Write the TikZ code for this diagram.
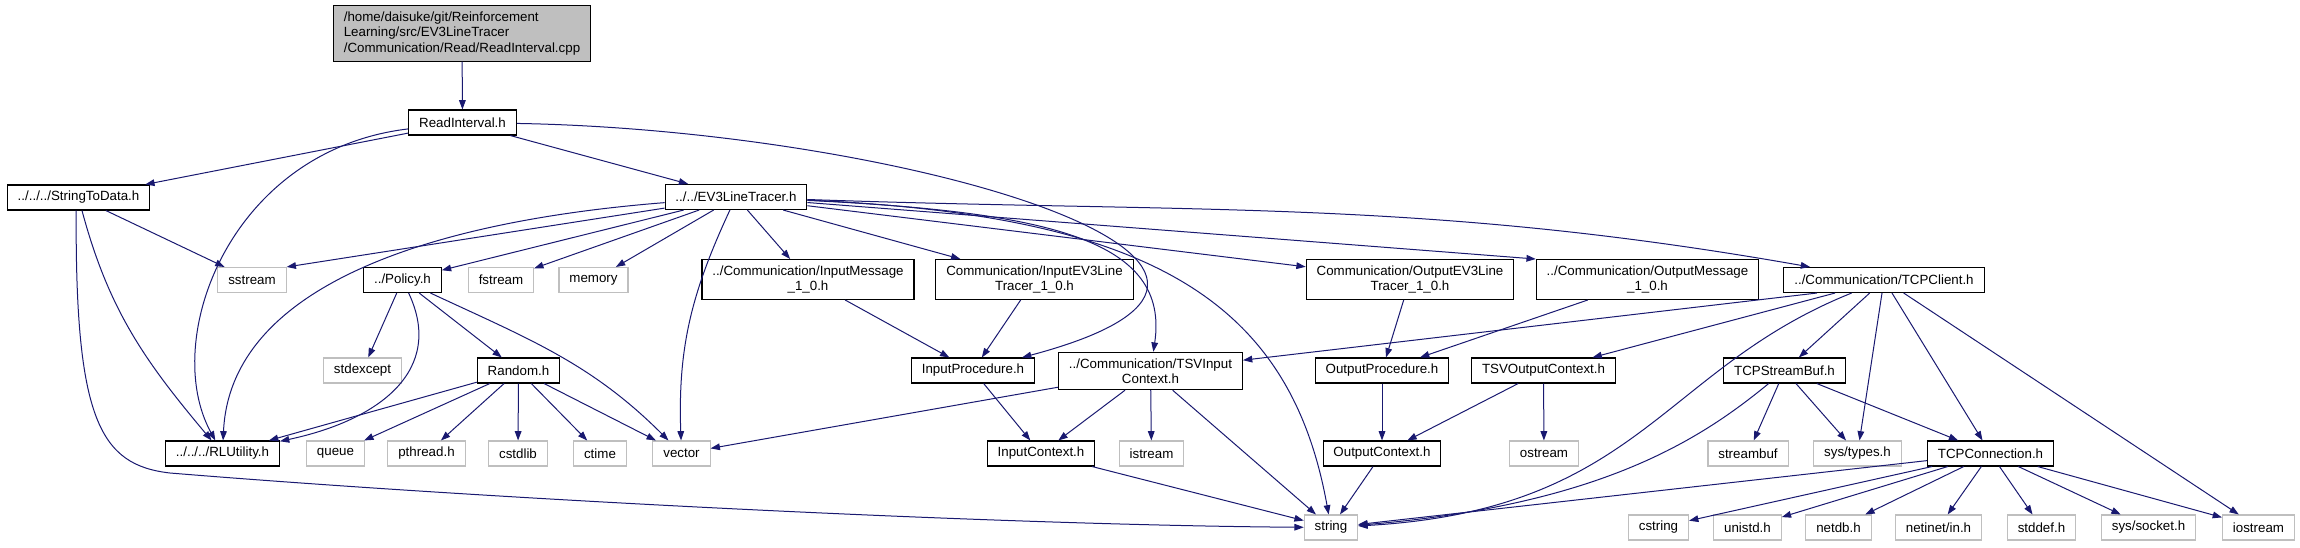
\documentclass[tikz,border=0pt]{standalone}
\usepackage{fontspec}
\setmainfont{Liberation Sans}
\usetikzlibrary{arrows.meta}
\definecolor{edgeblue}{HTML}{191970}
\definecolor{grey75}{HTML}{BFBFBF}

\begin{document}
\begin{tikzpicture}[x=0.75pt,y=-0.75pt,
docnode/.style={draw=black,fill=white,line width=0.8pt,font=\fontsize{10}{11.5}\selectfont,
  align=center,inner xsep=7.8pt,inner ysep=4.6pt,minimum height=18.75pt},
sysnode/.style={docnode,draw=grey75},
dep/.style={draw=edgeblue,line width=0.75pt,-{Triangle[length=7pt,width=5pt]}}]
\useasboundingbox (0,0) rectangle (2300,547);

\node[docnode,fill=grey75,align=left] (root) at (462,33.5)
  {/home/daisuke/git/Reinforcement\\Learning/src/EV3LineTracer\\/Communication/Read/ReadInterval.cpp};
\node[docnode] (readint) at (462.5,122.5) {ReadInterval.h};
\node[docnode] (strdata) at (78.5,197.5) {../../../StringToData.h};
\node[docnode] (ev3) at (736,197) {../../EV3LineTracer.h};

\node[sysnode] (sstream) at (252,280) {sstream};
\node[docnode] (policy) at (402.5,280) {../Policy.h};
\node[sysnode] (fstream) at (501,280) {fstream};
\node[sysnode] (memory) at (593.5,280) {memory};
\node[docnode] (inmsg) at (808,279.5) {../Communication/InputMessage\\\_1\_0.h};
\node[docnode] (inev3) at (1034.5,279.5) {Communication/InputEV3Line\\Tracer\_1\_0.h};
\node[docnode] (outev3) at (1410,279.5) {Communication/OutputEV3Line\\Tracer\_1\_0.h};
\node[docnode] (outmsg) at (1647.5,279.5) {../Communication/OutputMessage\\\_1\_0.h};
\node[docnode] (tcpclient) at (1884,280) {../Communication/TCPClient.h};

\node[sysnode] (stdexcept) at (362.5,370.5) {stdexcept};
\node[docnode] (random) at (518.5,370.5) {Random.h};
\node[docnode] (inproc) at (973,370.5) {InputProcedure.h};
\node[docnode] (tsvin) at (1150.5,371) {../Communication/TSVInput\\Context.h};
\node[docnode] (outproc) at (1382,370.5) {OutputProcedure.h};
\node[docnode] (tsvout) at (1543.5,370.5) {TSVOutputContext.h};
\node[docnode] (tcpbuf) at (1784.5,370.5) {TCPStreamBuf.h};

\node[docnode] (rlutil) at (222.5,453.5) {../../../RLUtility.h};
\node[sysnode] (queue) at (335.5,453.5) {queue};
\node[sysnode] (pthread) at (426.5,453.5) {pthread.h};
\node[sysnode] (cstdlib) at (518,453.5) {cstdlib};
\node[sysnode] (ctime) at (600,453.5) {ctime};
\node[sysnode] (vector) at (681.5,453.5) {vector};
\node[docnode] (inctx) at (1041,453.5) {InputContext.h};
\node[sysnode] (istream) at (1151.5,453.5) {istream};
\node[docnode] (outctx) at (1382,453.5) {OutputContext.h};
\node[sysnode] (ostream) at (1544,453.5) {ostream};
\node[sysnode] (streambuf) at (1748,453.5) {streambuf};
\node[sysnode] (systypes) at (1857.5,453.5) {sys/types.h};
\node[docnode] (tcpconn) at (1990.5,453.5) {TCPConnection.h};

\node[sysnode] (string) at (1331,527.5) {string};
\node[sysnode] (cstring) at (1658.5,527.5) {cstring};
\node[sysnode] (unistd) at (1747.5,527.5) {unistd.h};
\node[sysnode] (netdb) at (1838.5,527.5) {netdb.h};
\node[sysnode] (netinet) at (1938.5,527.5) {netinet/in.h};
\node[sysnode] (stddef) at (2041.5,527.5) {stddef.h};
\node[sysnode] (syssocket) at (2148.5,527.5) {sys/socket.h};
\node[sysnode] (iostream) at (2258.5,527.5) {iostream};

\foreach \a/\b in {root/readint, readint/strdata, readint/ev3, strdata/sstream,
  ev3/policy, ev3/fstream, ev3/memory, ev3/inmsg, ev3/inev3, ev3/outev3,
  policy/stdexcept, policy/random, random/rlutil, random/queue, random/pthread,
  random/cstdlib, random/ctime, random/vector, inmsg/inproc, inev3/inproc,
  inproc/inctx, tsvin/vector, tsvin/inctx, tsvin/istream, tsvin/string,
  inctx/string, outev3/outproc, outmsg/outproc, outproc/outctx, outctx/string,
  tcpclient/tsvout, tcpclient/tcpbuf, tcpclient/systypes, tcpclient/tcpconn,
  tcpclient/iostream, tsvout/outctx, tsvout/ostream, tcpbuf/streambuf,
  tcpbuf/systypes, tcpbuf/tcpconn, tcpconn/string, tcpconn/cstring,
  tcpconn/unistd, tcpconn/netdb, tcpconn/netinet, tcpconn/stddef,
  tcpconn/syssocket, tcpconn/iostream}
  \draw[dep] (\a) -- (\b);

\draw[dep] (readint) .. controls (230,150) and (160,340) .. (rlutil);
\draw[dep] (readint) .. controls (900,130) and (1370,265) .. (inproc);
\draw[dep] (strdata) to[out=-75,in=130] (rlutil);
\draw[dep] (strdata.260) .. controls (75,420) and (100,465) .. (170,473)
  .. controls (500,500) and (1000,525) .. (string);
\draw[dep] (ev3) -- (sstream.north east);
\draw[dep] (ev3) .. controls (420,222) and (230,290) .. (rlutil);
\draw[dep] (ev3) to[out=-115,in=92] (vector);
\draw[dep] (ev3) -- (outmsg.north west);
\draw[dep] (ev3) to[out=-2,in=170] (tcpclient);
\draw[dep] (ev3) .. controls (1050,212) and (1170,240) .. (tsvin);
\draw[dep] (ev3) .. controls (1150,215) and (1290,300) .. (string);
\draw[dep] (policy) to[out=-25,in=135] (vector);
\draw[dep] (policy) .. controls (445,370) and (380,420) .. (rlutil);
\draw[dep] (tcpclient.191) -- (tsvin);
\draw[dep] (tcpclient) .. controls (1660,370) and (1640,510) .. (string);
\draw[dep] (tcpbuf) .. controls (1700,440) and (1600,505) .. (string);
\end{tikzpicture}
\end{document}
